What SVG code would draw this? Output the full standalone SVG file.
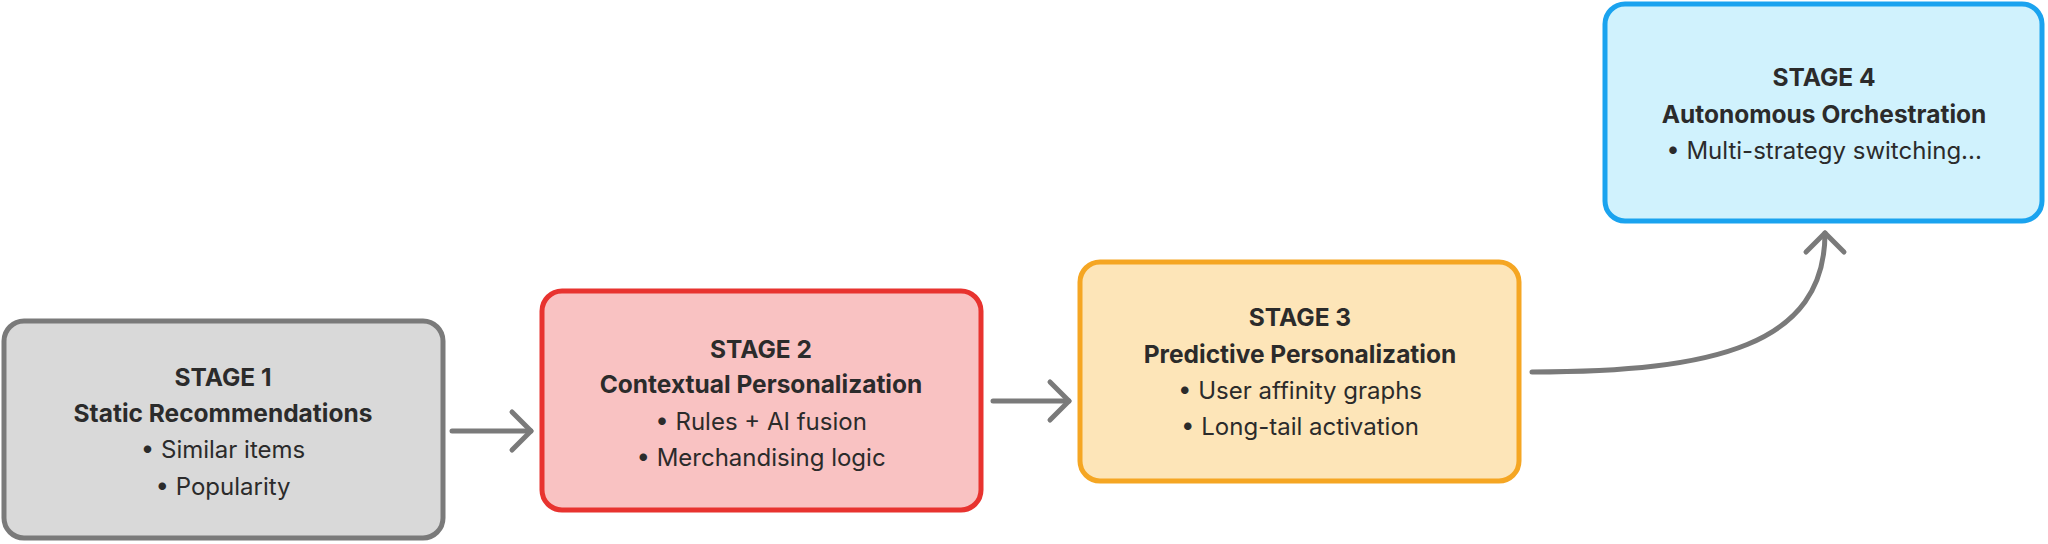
<svg xmlns="http://www.w3.org/2000/svg" width="2048" height="544" viewBox="0 0 2048 544">
<style>
.box{stroke-width:5}
.t{font-family:Inter,"Noto Sans","Liberation Sans",sans-serif;font-size:24px;fill:#2b2b2b;text-anchor:middle;dominant-baseline:central}
.b{font-weight:700;font-size:24.5px}
.c{fill:none;stroke:#7a7a7a;stroke-width:5;stroke-linecap:round}
</style>
<defs>
<marker id="ah" markerUnits="userSpaceOnUse" viewBox="-25 -25 30 50" markerWidth="30" markerHeight="50" refX="0" refY="0" orient="auto" overflow="visible">
<path d="M-19,-19 L0,0 L-19,19" fill="none" stroke="#7a7a7a" stroke-width="5" stroke-linecap="round" stroke-linejoin="round"/>
</marker>
</defs>
<rect width="2048" height="544" fill="#ffffff"/>
<g id="stage1">
<rect class="box" x="4" y="321" width="439" height="217" rx="20" fill="#d9d9d9" stroke="#7a7a7a"/>
<text class="t b" x="223" y="377">STAGE 1</text>
<text class="t b" x="223" y="413">Static Recommendations</text>
<text class="t" x="223" y="449">• Similar items</text>
<text class="t" x="223" y="486">• Popularity</text>
</g>
<g id="stage2">
<rect class="box" x="542" y="291" width="439" height="219" rx="20" fill="#f9c2c2" stroke="#e8332f"/>
<text class="t b" x="761" y="349">STAGE 2</text>
<text class="t b" x="761" y="384">Contextual Personalization</text>
<text class="t" x="761" y="421">• Rules + AI fusion</text>
<text class="t" x="761" y="457">• Merchandising logic</text>
</g>
<g id="stage3">
<rect class="box" x="1080" y="262" width="439" height="219" rx="20" fill="#fde5b8" stroke="#f5a623"/>
<text class="t b" x="1300" y="317">STAGE 3</text>
<text class="t b" x="1300" y="354">Predictive Personalization</text>
<text class="t" x="1300" y="390">• User affinity graphs</text>
<text class="t" x="1300" y="426">• Long-tail activation</text>
</g>
<g id="stage4">
<rect class="box" x="1605" y="4" width="437" height="217" rx="20" fill="#d0f2fd" stroke="#1aa3ef"/>
<text class="t b" x="1824" y="77">STAGE 4</text>
<text class="t b" x="1824" y="114">Autonomous Orchestration</text>
<text class="t" x="1824" y="150">• Multi-strategy switching...</text>
</g>
<g id="connectors">
<path class="c" d="M452,431 L531,431" marker-end="url(#ah)"/>
<path class="c" d="M993,401 L1069,401" marker-end="url(#ah)"/>
<path class="c" d="M1532,372 C1715,372 1825,345 1825,233" marker-end="url(#ah)"/>
</g>
</svg>
